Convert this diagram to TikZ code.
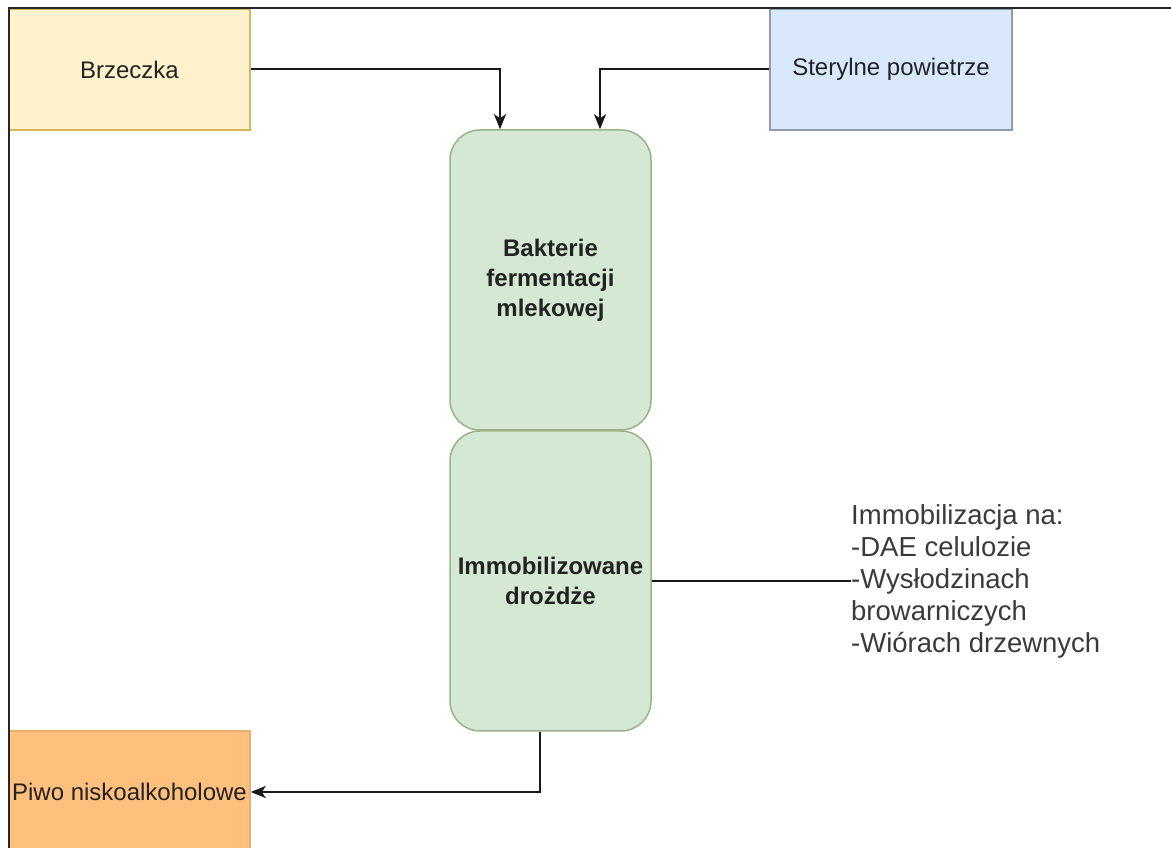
\documentclass[tikz,border=0pt]{standalone}
\usepackage{fontspec}
\setmainfont{Liberation Sans}
\usetikzlibrary{arrows.meta,calc}

\definecolor{yelFill}{HTML}{FFF2CC}
\definecolor{yelLine}{HTML}{D6B656}
\definecolor{bluFill}{HTML}{DAE8FC}
\definecolor{bluLine}{HTML}{8C9CB0}
\definecolor{grnFill}{HTML}{D5E8D4}
\definecolor{grnLine}{HTML}{9CB08C}
\definecolor{orgFill}{HTML}{FFC07E}
\definecolor{orgLine}{HTML}{E8B070}
\definecolor{txt}{HTML}{222222}
\definecolor{notetxt}{HTML}{3A3A3A}

\tikzset{
  boxfont/.style={font=\fontsize{24}{30}\selectfont, text=txt},
  flatbox/.style={boxfont, draw, line width=1.5pt, inner sep=0pt, align=center},
  stagebox/.style={boxfont, font=\fontsize{24}{30}\selectfont\bfseries, draw=grnLine, fill=grnFill,
    line width=1.5pt, rounded corners=30pt, minimum width=201pt, minimum height=300pt,
    align=center, inner sep=0pt},
  flow/.style={line width=2pt, draw=black!90, -{Stealth[length=15pt,width=12pt,inset=4pt]}},
  link/.style={line width=2pt, draw=black!90},
}

\begin{document}
\begin{tikzpicture}[x=1pt,y=1pt]
  \useasboundingbox (0,0) rectangle (1171,848);
  \fill[white] (0,0) rectangle (1171,848);

  % inputs
  \node[flatbox, draw=yelLine, fill=yelFill, minimum width=241pt, minimum height=121pt]
    (brz) at (129.5,778.5) {Brzeczka};
  \node[flatbox, draw=bluLine, fill=bluFill, minimum width=242pt, minimum height=121pt]
    (air) at (891,778.5) {Sterylne powietrze};

  % reactor stages
  \node[stagebox] (lab) at (550.5,568) {Bakterie\\fermentacji\\mlekowej};
  \node[stagebox] (imm) at (550.5,267) {Immobilizowane\\drożdże};

  % product
  \node[flatbox, draw=orgLine, fill=orgFill, minimum width=241pt, minimum height=122pt]
    (beer) at (129.5,56) {Piwo niskoalkoholowe};

  % carrier note
  \node[anchor=west, align=left, inner sep=0pt, text=notetxt,
        font=\fontsize{27.5}{32}\selectfont]
    (note) at (851,267) {Immobilizacja na:\\-DAE celulozie\\-Wysłodzinach\\browarniczych\\-Wiórach drzewnych};

  % connectors
  \draw[flow] (brz.east) -| ($(lab.north)+(-50.5,0)$);
  \draw[flow] (air.west) -| ($(lab.north)+(49.5,0)$);
  \draw[flow] ($(imm.south)+(-10.5,0)$) |- (beer.east);
  \draw[link] (imm.east) -- (note.west);

  % page frame
  \draw[line width=2pt, black!85] (9,0) -- (9,840) -- (1171,840);
\end{tikzpicture}
\end{document}
